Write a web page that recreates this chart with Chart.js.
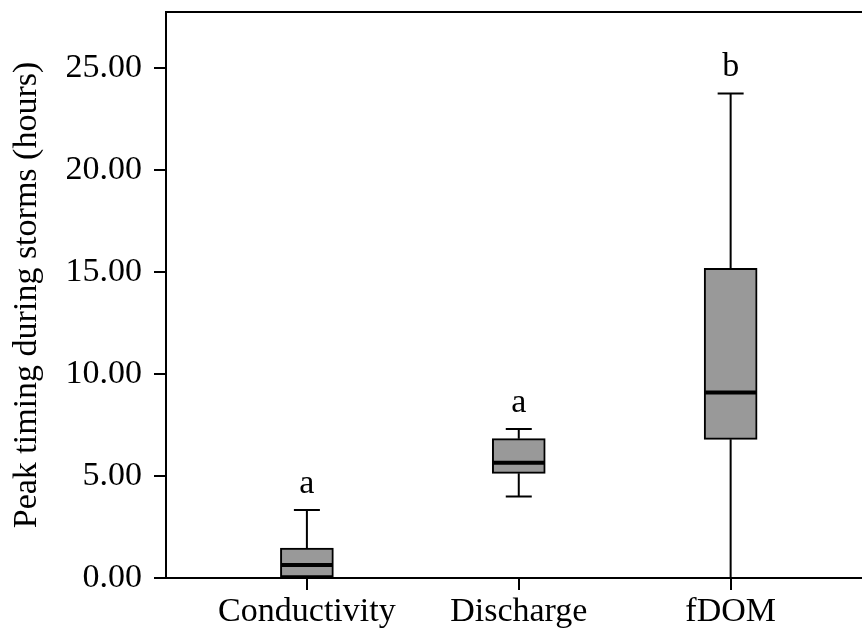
<!DOCTYPE html>
<html>
<head>
<meta charset="utf-8">
<script src="https://cdn.jsdelivr.net/npm/chart.js@4"></script>
<style>
  body { margin: 0; background: #fff; }
  #wrap { width: 862px; height: 629px; }
</style>
</head>
<body>
<div id="wrap"><canvas id="peakChart"></canvas></div>
<script>
// box plot stats per parameter (hours)
const categories = ['Conductivity', 'Discharge', 'fDOM'];
const whiskerLow = [0, 3.99, 0];
const q1 = [0, 5.13, 6.8];
const median = [0.64, 5.65, 9.1];
const q3 = [1.47, 6.83, 15.18];
const whiskerHigh = [3.33, 7.3, 23.76];
const groupLetters = ['a', 'a', 'b'];
const yTicks = [0, 5, 10, 15, 20, 25];

const FONT = { family: '"Liberation Serif", "Times New Roman", serif', size: 34 };

// Whiskers, medians, significance letters and the top frame line
const boxPlotExtras = {
  id: 'boxPlotExtras',
  beforeDatasetsDraw(chart) {
    const { ctx, scales: { x, y } } = chart;
    ctx.save();
    ctx.strokeStyle = '#000';
    ctx.lineWidth = 2;
    categories.forEach((c, i) => {
      const px = x.getPixelForValue(i + 1);
      const capHalf = 13;
      ctx.beginPath();
      ctx.moveTo(px, y.getPixelForValue(whiskerLow[i]));
      ctx.lineTo(px, y.getPixelForValue(q1[i]));
      ctx.moveTo(px, y.getPixelForValue(q3[i]));
      ctx.lineTo(px, y.getPixelForValue(whiskerHigh[i]));
      [whiskerLow[i], whiskerHigh[i]].forEach(v => {
        const py = y.getPixelForValue(v);
        ctx.moveTo(px - capHalf, py);
        ctx.lineTo(px + capHalf, py);
      });
      ctx.stroke();
    });
    ctx.restore();
  },
  afterDatasetsDraw(chart) {
    const { ctx, chartArea, scales: { x, y } } = chart;
    const bars = chart.getDatasetMeta(0).data;
    ctx.save();
    ctx.strokeStyle = '#000';
    ctx.lineWidth = 4;
    bars.forEach((bar, i) => {
      const half = bar.width / 2;
      const py = y.getPixelForValue(median[i]);
      ctx.beginPath();
      ctx.moveTo(bar.x - half + 1, py);
      ctx.lineTo(bar.x + half - 1, py);
      ctx.stroke();
    });

    ctx.fillStyle = '#000';
    ctx.font = `${FONT.size}px ${FONT.family}`;
    ctx.textAlign = 'center';
    ctx.textBaseline = 'alphabetic';
    groupLetters.forEach((letter, i) => {
      const px = x.getPixelForValue(i + 1);
      ctx.fillText(letter, px, y.getPixelForValue(whiskerHigh[i]) - 17);
    });

    ctx.lineWidth = 2;
    ctx.beginPath();
    ctx.moveTo(chartArea.left - 1, chartArea.top);
    ctx.lineTo(chartArea.right, chartArea.top);
    ctx.stroke();
    ctx.restore();
  }
};

const ctx = document.getElementById('peakChart').getContext('2d');
new Chart(ctx, {
  type: 'bar',
  data: {
    datasets: [{
      data: categories.map((c, i) => ({ x: i + 1, y: [q1[i], q3[i]] })),
      backgroundColor: '#999999',
      borderColor: '#000',
      borderWidth: 2,
      borderSkipped: false,
      barThickness: 53
    }]
  },
  options: {
    responsive: true,
    maintainAspectRatio: false,
    animation: false,
    layout: { padding: { top: 12, right: 0, left: 0, bottom: 0 } },
    plugins: { legend: { display: false }, tooltip: { enabled: false } },
    scales: {
      x: {
        type: 'linear',
        offset: false,
        min: 0.335,
        max: 3.62,
        afterBuildTicks: scale => { scale.ticks = [1, 2, 3].map(v => ({ value: v })); },
        afterFit: scale => {
          scale.height = 51;
          scale.paddingLeft = 0;
          scale.paddingRight = 0;
        },
        ticks: {
          callback: v => categories[v - 1],
          color: '#000',
          font: FONT,
          padding: 2,
          maxRotation: 0
        },
        grid: { offset: false, drawOnChartArea: false, tickLength: 12, color: '#000', lineWidth: 2 },
        border: { color: '#000', width: 2 }
      },
      y: {
        min: 0,
        max: 27.75,
        afterBuildTicks: scale => { scale.ticks = yTicks.map(v => ({ value: v })); },
        afterFit: scale => {
          scale.width = 166;
          scale.paddingTop = 0;
          scale.paddingBottom = 0;
        },
        ticks: {
          callback: v => v.toFixed(2),
          color: '#000',
          font: FONT,
          padding: 12
        },
        grid: { drawOnChartArea: false, tickLength: 12, color: '#000', lineWidth: 2 },
        border: { color: '#000', width: 2 },
        title: {
          display: true,
          text: 'Peak timing during storms (hours)',
          color: '#000',
          font: FONT,
          padding: { top: 7, bottom: 0 }
        }
      }
    }
  },
  plugins: [boxPlotExtras]
});
</script>
</body>
</html>
